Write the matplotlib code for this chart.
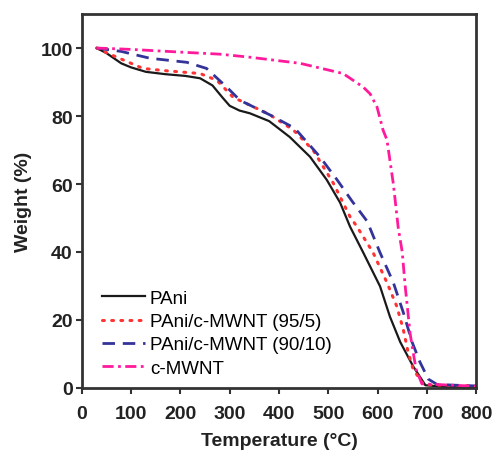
import matplotlib; matplotlib.use('Agg')
import matplotlib.pyplot as plt

plt.rcParams['font.family'] = ['Liberation Sans', 'DejaVu Sans']

# TGA curves: temperature (C) vs residual weight (%)
t_pani = [30, 50, 80, 100, 130, 170, 210, 240, 265, 285, 300, 320, 341, 380, 422, 463, 497, 524, 544, 571, 605, 625, 646, 672, 697, 740, 800]
w_pani = [100, 98.5, 95.5, 94.3, 93, 92.3, 91.8, 91.1, 89, 85.5, 83, 81.6, 80.8, 78.5, 73.8, 68, 61.2, 54.5, 47.5, 39.8, 29.9, 21, 13.5, 6.4, 0.8, 0.3, 0.3]

t_955 = [30, 60, 100, 124, 172, 240, 274, 307, 341, 380, 429, 469, 510, 544, 558, 591, 619, 639, 652, 662, 672, 693, 800]
w_955 = [100, 98, 95.5, 94, 93.3, 92.5, 90.5, 85.5, 83.2, 80.5, 75.9, 70, 60.3, 50.4, 47.5, 39.8, 31, 24, 17.3, 10.5, 5.6, 1.0, 0.5]

t_9010 = [30, 80, 138, 213, 253, 294, 321, 341, 382, 432, 483, 518, 548, 579, 605, 632, 652, 670, 686, 703, 721, 800]
w_9010 = [100, 99, 97, 95.8, 94, 88.5, 84.6, 83.2, 80.3, 76.4, 68, 61.2, 55, 49, 39.8, 31, 22.3, 13.5, 7.6, 2.6, 1.0, 0.6]

t_cnt = [30, 100, 200, 280, 341, 443, 530, 571, 585, 599, 611, 619, 632, 642, 650, 656, 666, 678, 690, 800]
w_cnt = [100, 99.6, 98.8, 98.2, 97.3, 95.5, 92.5, 88.5, 86.5, 82.6, 75.9, 73, 60, 47, 40, 30, 16, 5.5, 1.2, 0.5]

labels = ['PAni', 'PAni/c-MWNT (95/5)', 'PAni/c-MWNT (90/10)', 'c-MWNT']
xticks = [0, 100, 200, 300, 400, 500, 600, 700, 800]
yticks = [0, 20, 40, 60, 80, 100]

fig = plt.figure(figsize=(4.96, 4.56), dpi=100)
ax = fig.add_axes([0.165, 0.147, 0.795, 0.82])

ax.plot(t_pani, w_pani, c='#1a1a1a', lw=1.6, label=labels[0])
ax.plot(t_955, w_955, c='#ff3333', lw=2.2, ls=(0, (0.6, 2.4)), dash_capstyle='round', label=labels[1])
ax.plot(t_9010, w_9010, c='#333399', lw=2.0, ls=(0, (4.5, 2.8)), label=labels[2])
ax.plot(t_cnt, w_cnt, c='#ff1a9c', lw=2.0, ls=(0, (4, 1.6, 1, 1.6)), label=labels[3])

ax.set_xlim(0, 800); ax.set_ylim(0, 110)
ax.set_xticks(xticks); ax.set_yticks(yticks)
for s in ax.spines.values():
    s.set_linewidth(2); s.set_color('#333333')
ax.tick_params(direction='out', length=4.5, width=1.5, color='#333333', labelsize=14)
ax.tick_params(axis='x', pad=8)
ax.tick_params(axis='y', pad=2)
for lb in ax.get_xticklabels() + ax.get_yticklabels():
    lb.set_fontweight('bold'); lb.set_color('#222222')

ax.set_xlabel('Temperature (\u00b0C)', fontsize=14, fontweight='bold', color='#222222', labelpad=7)
ax.set_ylabel('Weight (%)', fontsize=14, fontweight='bold', color='#222222', labelpad=6)

ax.legend(loc='lower left', bbox_to_anchor=(0.022, 0.0), frameon=False, fontsize=13.5,
          handlelength=2.3, handletextpad=0.27, labelspacing=0.33, borderaxespad=0.2)

fig.savefig('out.png', dpi=100)
